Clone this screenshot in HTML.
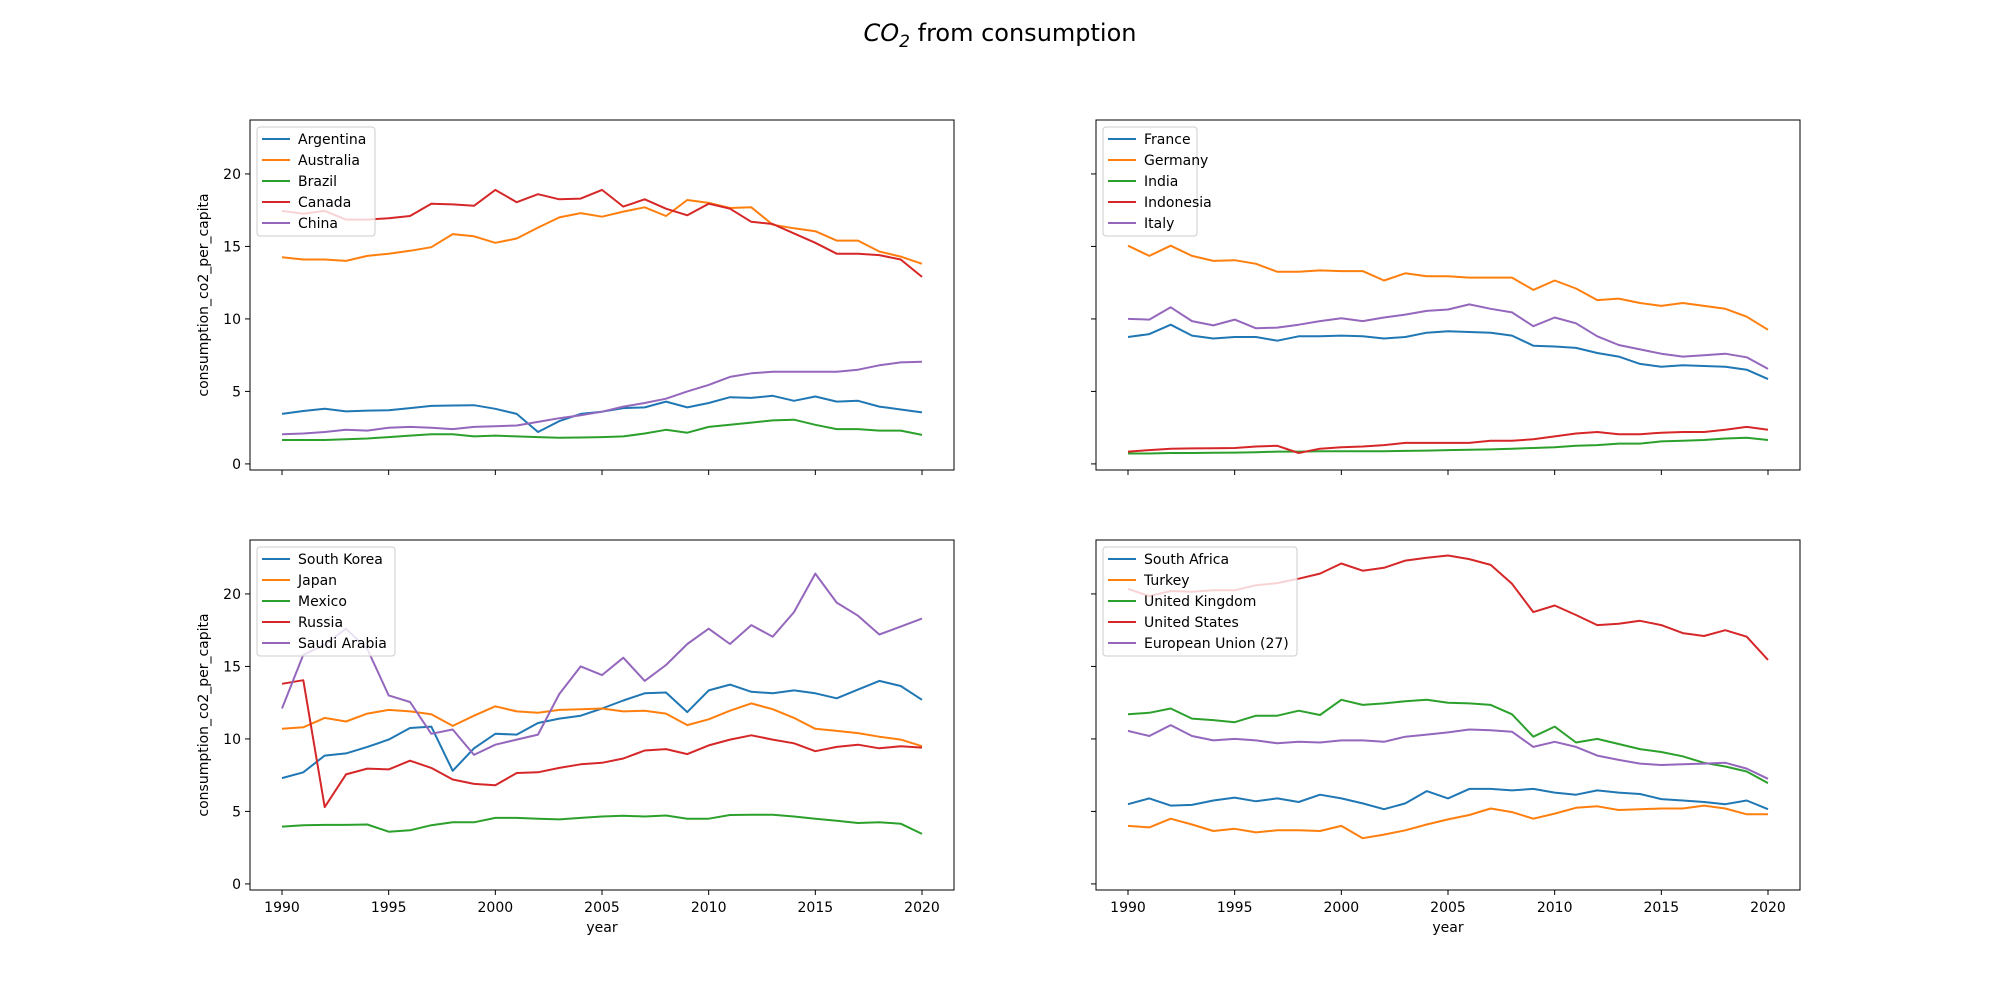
<!DOCTYPE html>
<html><head><meta charset="utf-8"><style>
body{margin:0;background:#fff;}
svg{display:block;font-family:"DejaVu Sans","Liberation Sans",sans-serif;}
</style></head><body>
<svg id="fig" width="2000" height="1000" viewBox="0 0 2000 1000">
<rect width="2000" height="1000" fill="#fff"/>
<text x="1000" y="41" text-anchor="middle" font-size="24"><tspan font-style="italic">CO</tspan><tspan font-size="17" dy="6" font-style="italic">2</tspan><tspan dy="-6"> from consumption</tspan></text>
</svg>
<script>
const years = [];
for (let y = 1990; y <= 2020; y++) years.push(y);
const xTicks = [1990, 1995, 2000, 2005, 2010, 2015, 2020];
const yTicks = [0, 5, 10, 15, 20];
const colors = ["#1f77b4", "#ff7f0e", "#2ca02c", "#d62728", "#9467bd"];

const argentina = [3.45,3.65,3.8,3.62,3.68,3.7,3.85,4.0,4.03,4.05,3.8,3.45,2.2,2.95,3.45,3.6,3.85,3.9,4.3,3.9,4.2,4.6,4.55,4.7,4.35,4.65,4.3,4.35,3.95,3.75,3.55];
const australia = [14.25,14.1,14.1,14.0,14.35,14.5,14.7,14.95,15.85,15.7,15.25,15.55,16.3,17.0,17.3,17.05,17.4,17.7,17.1,18.2,18.0,17.65,17.7,16.5,16.25,16.05,15.4,15.4,14.65,14.3,13.8];
const brazil = [1.65,1.65,1.65,1.7,1.75,1.85,1.95,2.05,2.05,1.9,1.95,1.9,1.85,1.8,1.82,1.85,1.9,2.1,2.35,2.15,2.55,2.7,2.85,3.0,3.05,2.7,2.4,2.4,2.3,2.3,2.0];
const canada = [17.45,17.25,17.45,16.85,16.85,16.95,17.1,17.95,17.9,17.8,18.9,18.05,18.6,18.25,18.3,18.9,17.75,18.25,17.6,17.15,17.95,17.6,16.7,16.55,15.9,15.25,14.5,14.5,14.4,14.1,12.9];
const china = [2.05,2.1,2.2,2.35,2.3,2.5,2.55,2.5,2.4,2.55,2.6,2.65,2.9,3.15,3.35,3.6,3.95,4.2,4.5,5.0,5.45,6.0,6.25,6.35,6.35,6.35,6.35,6.5,6.8,7.0,7.05];

const france = [8.75,8.95,9.6,8.85,8.65,8.75,8.75,8.5,8.8,8.8,8.85,8.8,8.65,8.75,9.05,9.15,9.1,9.05,8.85,8.15,8.1,8.0,7.65,7.4,6.9,6.7,6.8,6.75,6.7,6.5,5.85];
const germany = [15.05,14.35,15.05,14.35,14.0,14.05,13.8,13.25,13.25,13.35,13.3,13.3,12.65,13.15,12.95,12.95,12.85,12.85,12.85,12.0,12.65,12.1,11.3,11.4,11.1,10.9,11.1,10.9,10.7,10.15,9.25];
const india = [0.72,0.72,0.75,0.75,0.77,0.78,0.8,0.85,0.85,0.88,0.88,0.88,0.88,0.9,0.92,0.95,0.97,1.0,1.05,1.1,1.15,1.25,1.3,1.4,1.4,1.55,1.6,1.65,1.75,1.8,1.65];
const indonesia = [0.85,0.95,1.05,1.07,1.08,1.1,1.2,1.25,0.75,1.05,1.15,1.2,1.3,1.45,1.45,1.45,1.45,1.6,1.6,1.7,1.9,2.1,2.2,2.05,2.05,2.15,2.2,2.2,2.35,2.55,2.35];
const italy = [10.0,9.95,10.8,9.85,9.55,9.95,9.35,9.4,9.6,9.85,10.05,9.85,10.1,10.3,10.55,10.65,11.0,10.7,10.45,9.5,10.1,9.7,8.8,8.2,7.9,7.6,7.4,7.5,7.6,7.35,6.55];

const southKorea = [7.3,7.7,8.85,9.0,9.45,9.95,10.75,10.85,7.8,9.35,10.35,10.3,11.1,11.4,11.6,12.1,12.65,13.15,13.2,11.85,13.35,13.75,13.25,13.15,13.35,13.15,12.8,13.4,14.0,13.65,12.7];
const japan = [10.7,10.8,11.45,11.2,11.75,12.0,11.9,11.7,10.9,11.6,12.25,11.9,11.8,12.0,12.05,12.1,11.9,11.95,11.75,10.95,11.35,11.95,12.45,12.05,11.45,10.7,10.55,10.4,10.15,9.95,9.5];
const mexico = [3.95,4.05,4.07,4.07,4.1,3.6,3.7,4.05,4.25,4.25,4.55,4.55,4.5,4.45,4.55,4.65,4.7,4.65,4.72,4.5,4.5,4.75,4.77,4.77,4.65,4.5,4.35,4.2,4.25,4.15,3.45];
const russia = [13.8,14.05,5.3,7.55,7.95,7.9,8.5,8.0,7.2,6.9,6.8,7.65,7.7,8.0,8.25,8.35,8.65,9.2,9.3,8.95,9.55,9.95,10.25,9.95,9.7,9.15,9.45,9.6,9.35,9.5,9.4];
const saudiArabia = [12.1,15.8,16.5,17.6,16.2,13.0,12.55,10.35,10.65,8.9,9.6,9.95,10.3,13.1,15.0,14.4,15.6,14.0,15.1,16.55,17.6,16.55,17.85,17.05,18.75,21.4,19.4,18.5,17.2,17.75,18.3];

const southAfrica = [5.5,5.9,5.4,5.45,5.75,5.95,5.7,5.9,5.65,6.15,5.9,5.55,5.15,5.55,6.4,5.9,6.55,6.55,6.45,6.55,6.3,6.15,6.45,6.3,6.2,5.85,5.75,5.65,5.5,5.75,5.15];
const turkey = [4.0,3.9,4.5,4.1,3.65,3.8,3.55,3.7,3.7,3.65,4.0,3.15,3.4,3.7,4.1,4.45,4.75,5.2,4.95,4.5,4.85,5.25,5.35,5.1,5.15,5.2,5.2,5.4,5.2,4.8,4.8];
const unitedKingdom = [11.7,11.8,12.1,11.4,11.3,11.15,11.6,11.6,11.95,11.65,12.7,12.35,12.45,12.6,12.7,12.5,12.45,12.35,11.7,10.15,10.85,9.75,10.0,9.65,9.3,9.1,8.8,8.35,8.1,7.75,6.95];
const unitedStates = [20.35,19.85,20.2,20.15,20.25,20.25,20.6,20.75,21.05,21.4,22.1,21.6,21.8,22.3,22.5,22.65,22.4,22.0,20.7,18.75,19.2,18.55,17.85,17.95,18.15,17.85,17.3,17.1,17.5,17.05,15.45];
const europeanUnion = [10.55,10.2,10.95,10.2,9.9,10.0,9.9,9.7,9.8,9.75,9.9,9.9,9.8,10.15,10.3,10.45,10.65,10.6,10.5,9.45,9.8,9.45,8.85,8.55,8.3,8.2,8.25,8.3,8.35,7.95,7.25];

const panels = [
  {name:"panel-top-left", x0:250, y0:120, names:["Argentina","Australia","Brazil","Canada","China"], series:[argentina,australia,brazil,canada,china], yl:true, xl:false, lw:118},
  {name:"panel-top-right", x0:1096, y0:120, names:["France","Germany","India","Indonesia","Italy"], series:[france,germany,india,indonesia,italy], yl:false, xl:false, lw:94},
  {name:"panel-bottom-left", x0:250, y0:540, names:["South Korea","Japan","Mexico","Russia","Saudi Arabia"], series:[southKorea,japan,mexico,russia,saudiArabia], yl:true, xl:true, lw:138},
  {name:"panel-bottom-right", x0:1096, y0:540, names:["South Africa","Turkey","United Kingdom","United States","European Union (27)"], series:[southAfrica,turkey,unitedKingdom,unitedStates,europeanUnion], yl:false, xl:true, lw:194}
];
const W = 704, H = 350, XMIN = 1988.5, XMAX = 2021.5, YMIN = -0.42, YMAX = 23.72;
const NS = "http://www.w3.org/2000/svg";
const fig = document.getElementById("fig");
function mk(tag, attrs, parent){const e=document.createElementNS(NS,tag);for(const k in attrs)e.setAttribute(k,attrs[k]);parent.appendChild(e);return e;}

panels.forEach(p => {
  const sx = v => p.x0 + (v - XMIN) / (XMAX - XMIN) * W;
  const sy = v => p.y0 + H - (v - YMIN) / (YMAX - YMIN) * H;
  const g = mk("g", {}, fig);
  
  
  xTicks.forEach(t => {
    const tk = mk("line", {x1:sx(t), x2:sx(t), y1:p.y0+H, y2:p.y0+H+5, stroke:"#000", "stroke-width":1}, g);
    
    
    if (p.xl) {
      const tl = mk("text", {x:sx(t), y:p.y0+H+22, "text-anchor":"middle", "font-size":14}, g);
      tl.textContent = t;
      
      
    }
  });
  yTicks.forEach(t => {
    const tk = mk("line", {x1:p.x0-5, x2:p.x0, y1:sy(t), y2:sy(t), stroke:"#000", "stroke-width":1}, g);
    
    
    if (p.yl) {
      const tl = mk("text", {x:p.x0-9, y:sy(t)+5, "text-anchor":"end", "font-size":14}, g);
      tl.textContent = t;
      
      
    }
  });
  p.series.forEach((s, i) => {
    const d = s.map((v, j) => (j ? "L" : "M") + sx(years[j]).toFixed(1) + "," + sy(v).toFixed(1)).join("");
    const path = mk("path", {d:d, fill:"none", stroke:colors[i], "stroke-width":2, "stroke-linejoin":"round"}, g);
    
    
  });
  const frame = mk("rect", {x:p.x0, y:p.y0, width:W, height:H, fill:"none", stroke:"#000", "stroke-width":1}, g);
  
  
  if (p.yl) {
    const yl = mk("text", {x:0, y:0, transform:"translate(" + (p.x0-42) + "," + (p.y0+H/2) + ") rotate(-90)", "text-anchor":"middle", "font-size":14}, g);
    yl.textContent = "consumption_co2_per_capita";
    
    
  }
  if (p.xl) {
    const xl = mk("text", {x:p.x0+W/2, y:p.y0+H+42, "text-anchor":"middle", "font-size":14}, g);
    xl.textContent = "year";
    
    
  }
  const lg = mk("g", {}, g);
  
  
  const lx = p.x0 + 7, ly = p.y0 + 7;
  mk("rect", {x:lx, y:ly, width:p.lw, height:109, rx:3, fill:"#fff", "fill-opacity":0.8, stroke:"#ccc", "stroke-width":1}, lg);
  p.names.forEach((n, i) => {
    const yy = ly + 12 + i * 21;
    const le = mk("g", {}, lg);
    
    
    mk("line", {x1:lx+5, x2:lx+33, y1:yy, y2:yy, stroke:colors[i], "stroke-width":2}, le);
    const t = mk("text", {x:lx+41, y:yy+5, "font-size":14}, le);
    t.textContent = n;
  });
});
</script>
</body></html>
